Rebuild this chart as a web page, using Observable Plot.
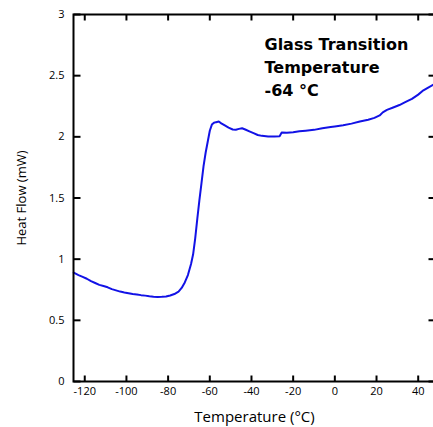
<!DOCTYPE html>
<html>
<head>
<meta charset="utf-8">
<script src="https://cdn.jsdelivr.net/npm/d3@7"></script>
<script src="https://cdn.jsdelivr.net/npm/@observablehq/plot@0.6"></script>
<style>
  html, body { margin: 0; padding: 0; background: white; overflow: hidden; }
  #chart { width: 433px; height: 427px; overflow: hidden; }
</style>
</head>
<body>
<div id="chart"></div>
<script>
// Temperature (°C)
const temperature = [
  -125.3, -123, -121, -119, -117, -115, -113, -111, -109, -107, -105, -103, -101, -99, -97,
  -95, -93, -91, -89, -87, -85, -83, -81, -79, -77, -75, -73.5, -72, -70.5, -69,
  -68, -67, -66, -65, -64, -63, -62, -61, -60, -59, -58, -57, -55.7, -54.5, -53,
  -51, -49, -47.5, -46, -44.5, -43, -41, -39, -37, -35, -32, -29, -26.5, -25.5, -23,
  -20, -17, -14, -10, -6, -2, 0, 4, 8, 12, 16, 19, 21.5, 23, 25,
  28, 31, 34, 37, 40, 42.5, 45, 48.3
];
// Heat flow (mW)
const heatFlow = [
  0.89, 0.87, 0.855, 0.84, 0.82, 0.805, 0.79, 0.78, 0.77, 0.755, 0.745, 0.735, 0.728, 0.722, 0.716,
  0.712, 0.706, 0.702, 0.697, 0.693, 0.69, 0.692, 0.695, 0.703, 0.715, 0.735, 0.765, 0.81, 0.87, 0.96,
  1.04, 1.17, 1.33, 1.48, 1.62, 1.76, 1.87, 1.96, 2.05, 2.1, 2.115, 2.12, 2.125, 2.11, 2.095,
  2.075, 2.06, 2.058, 2.065, 2.07, 2.06, 2.045, 2.03, 2.015, 2.008, 2.003, 2.002, 2.005, 2.035, 2.033,
  2.038, 2.045, 2.05, 2.057, 2.07, 2.08, 2.085, 2.095, 2.108, 2.125, 2.14, 2.155, 2.175, 2.2, 2.22,
  2.24, 2.26, 2.285, 2.31, 2.345, 2.38, 2.405, 2.435
];
const xTicks = [-120, -100, -80, -60, -40, -20, 0, 20, 40];
const yTicks = [0, 0.5, 1, 1.5, 2, 2.5, 3];
const xDomain = [-125.4, 48.3];
const yDomain = [0, 3];
const xLabel = "Temperature (°C)";
const yLabel = "Heat Flow (mW)";
const annotation = "Glass Transition\nTemperature\n-64 °C";

const data = temperature.map((t, i) => ({t, q: heatFlow[i]}));
const fmt = d => String(d);

const W = 433, H = 427, mL = 73, mR = -2, mT = 14, mB = 46;
const plotW = W - mL - mR, plotH = H - mT - mB;
// inward tick lengths expressed in data units (6 px and 7 px)
const xTickLen = 6 / plotH * (yDomain[1] - yDomain[0]);
const yTickLen = 7 / plotW * (xDomain[1] - xDomain[0]);

const chart = Plot.plot({
  width: W,
  height: H,
  marginLeft: mL,
  marginRight: mR,
  marginTop: mT,
  marginBottom: mB,
  style: {fontFamily: "'Open Sans', sans-serif", fontSize: "11px", color: "black", background: "white", overflow: "hidden"},
  x: {domain: xDomain},
  y: {domain: yDomain},
  marks: [
    Plot.line(data, {x: "t", y: "q", stroke: "#1212e6", strokeWidth: 2}),
    Plot.frame({stroke: "black", strokeWidth: 2}),
    // inward tick marks
    Plot.link(xTicks, {x1: d => d, x2: d => d, y1: () => yDomain[0], y2: () => yDomain[0] + xTickLen, stroke: "black", strokeWidth: 2}),
    Plot.link(xTicks, {x1: d => d, x2: d => d, y1: () => yDomain[1], y2: () => yDomain[1] - xTickLen, stroke: "black", strokeWidth: 2}),
    Plot.link(yTicks, {y1: d => d, y2: d => d, x1: () => xDomain[0], x2: () => xDomain[0] + yTickLen, stroke: "black", strokeWidth: 2}),
    Plot.link(yTicks, {y1: d => d, y2: d => d, x1: () => xDomain[1], x2: () => xDomain[1] - yTickLen, stroke: "black", strokeWidth: 2}),
    // tick labels
    Plot.axisX({anchor: "bottom", ticks: xTicks, tickSize: 0, tickPadding: 6, tickFormat: fmt, label: null, fontSize: 11}),
    Plot.axisY({anchor: "left", ticks: yTicks, tickSize: 0, tickPadding: 9, tickFormat: fmt, label: null, fontSize: 11}),
    // axis titles
    Plot.axisX({anchor: "bottom", ticks: [], tickSize: 0, label: xLabel, labelAnchor: "center", labelOffset: 40, labelArrow: "none", fontSize: 15, dx: 9}),
    Plot.axisY({anchor: "left", ticks: [], tickSize: 0, label: yLabel, labelAnchor: "center", labelOffset: 57, labelArrow: "none", fontSize: 13, dy: 13}),
    // annotation
    Plot.text([annotation], {frameAnchor: "top-left", text: d => d, dx: 191, dy: 19, textAnchor: "start", lineAnchor: "top", fontSize: 16, fontWeight: "bold", fontFamily: "'DejaVu Sans', sans-serif", lineHeight: 1.44, fill: "black"})
  ]
});
document.getElementById("chart").appendChild(chart);
</script>
</body>
</html>
